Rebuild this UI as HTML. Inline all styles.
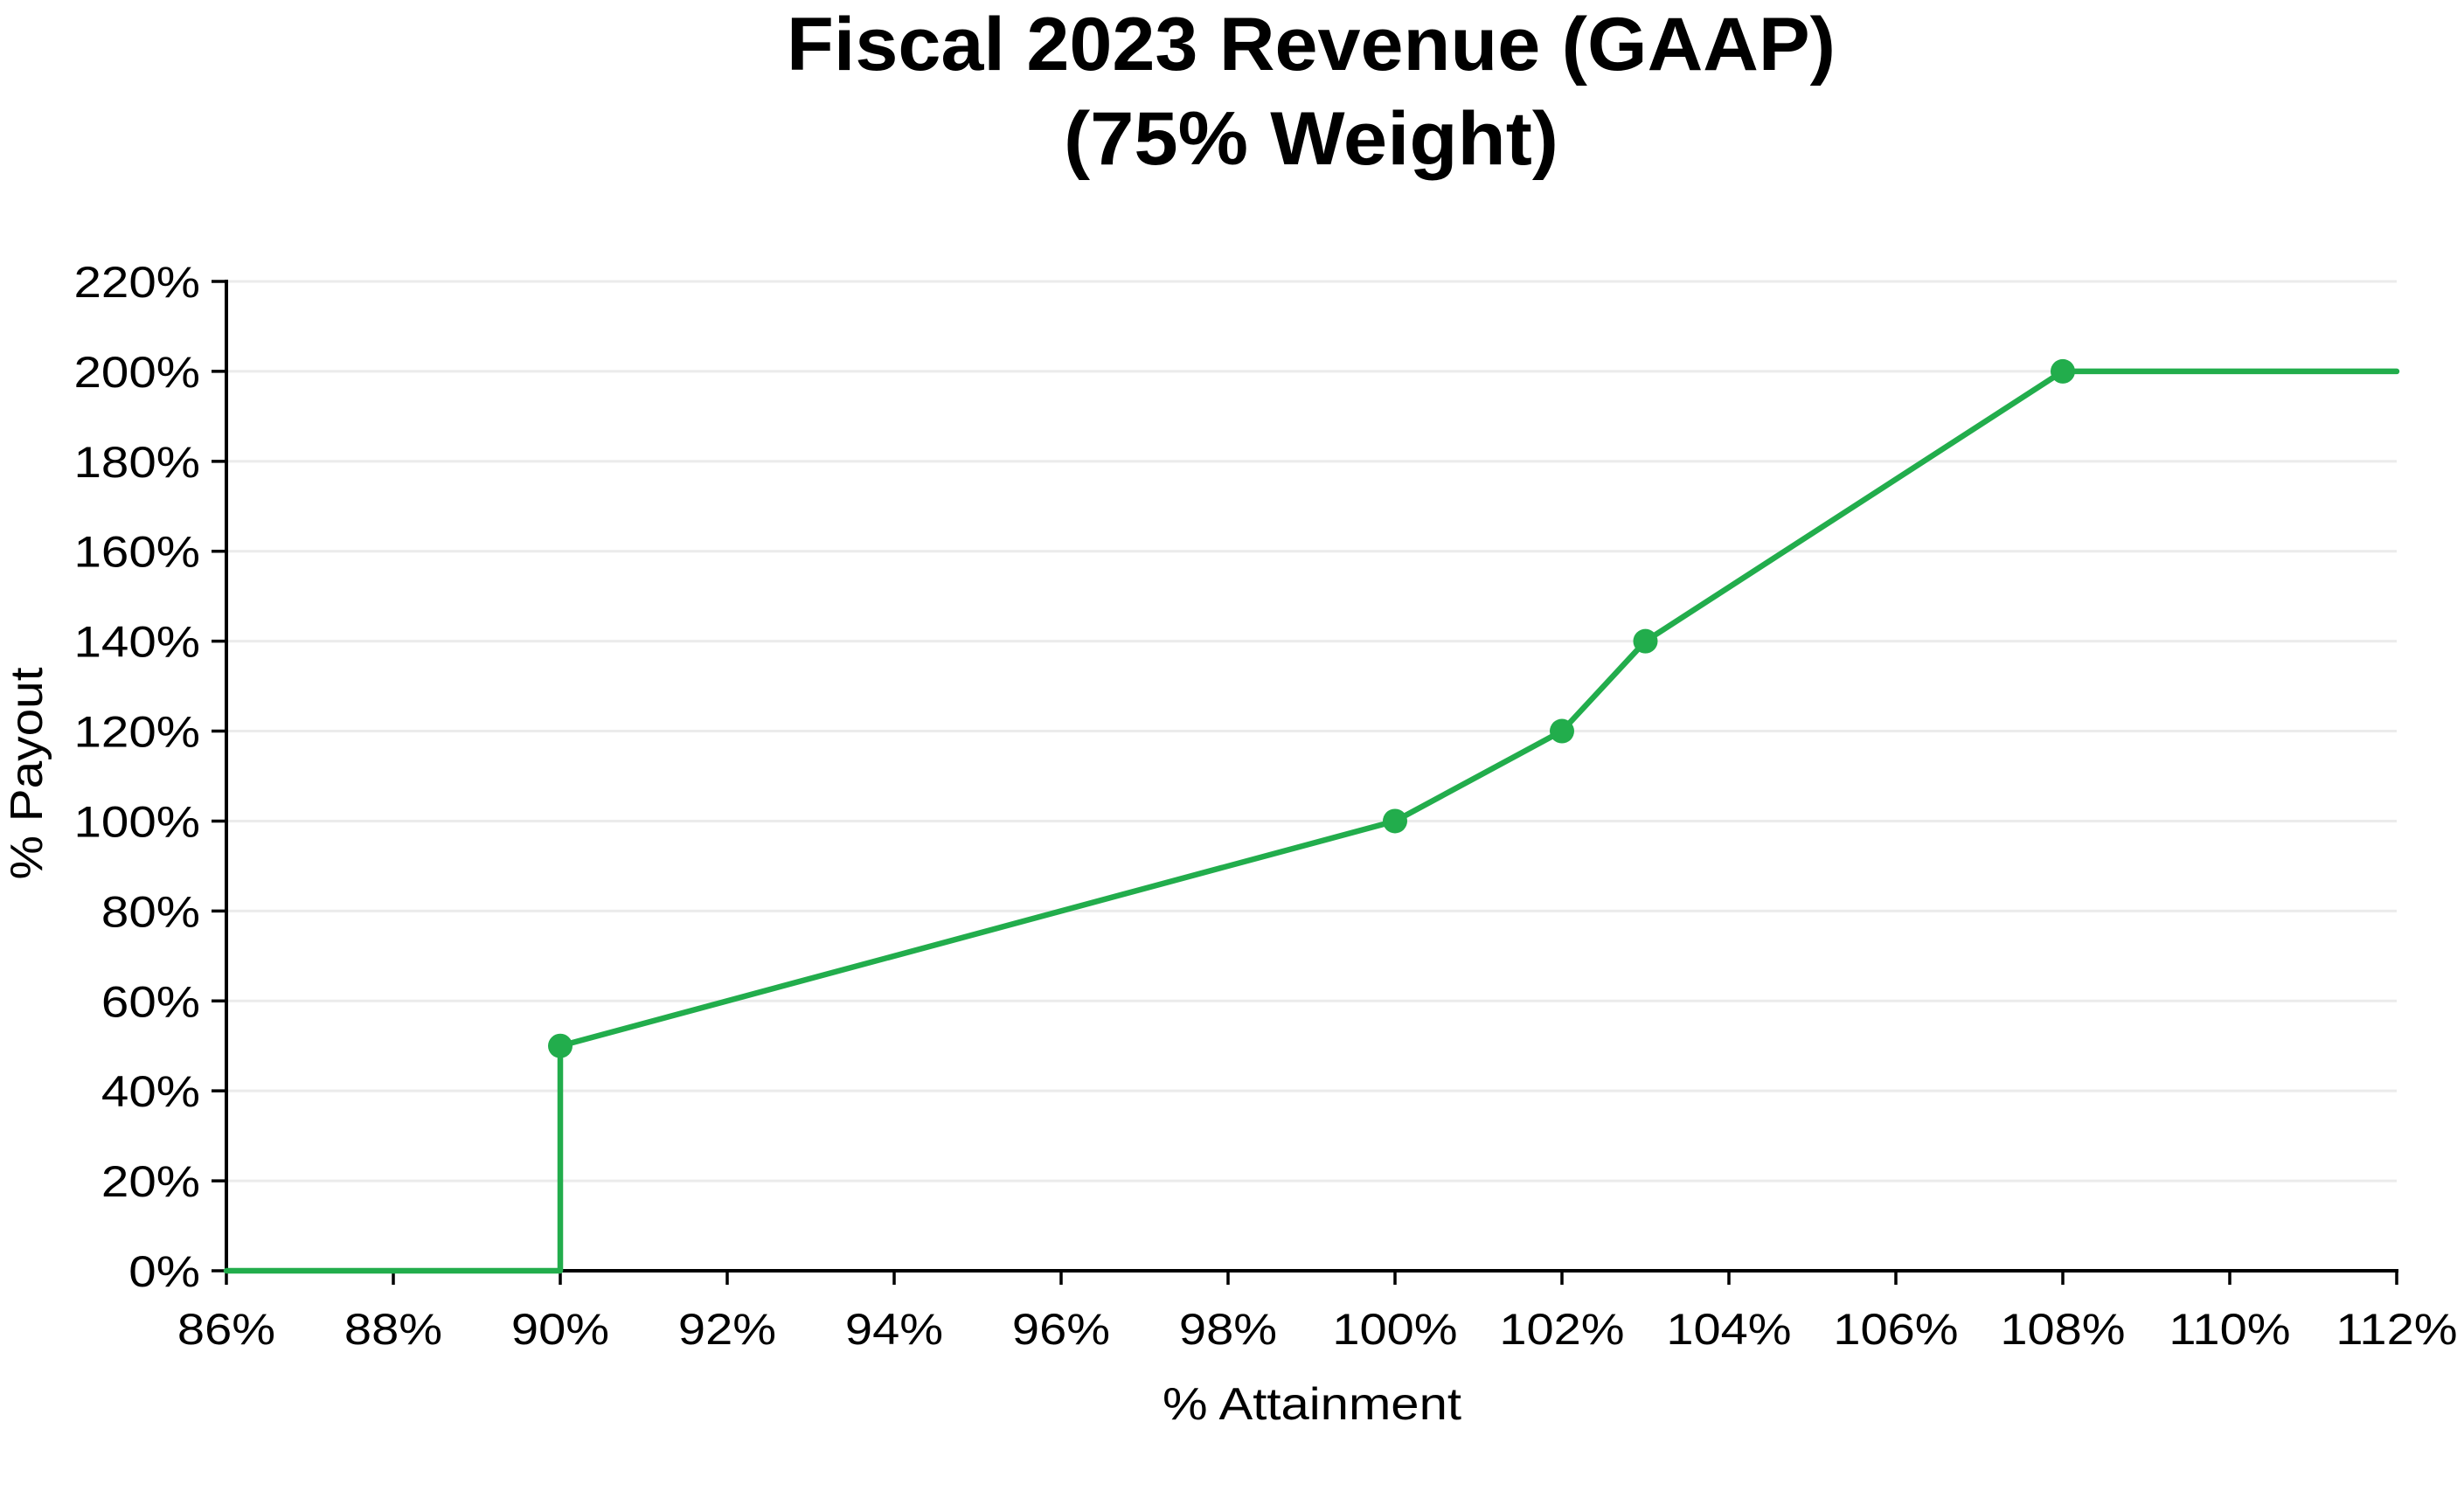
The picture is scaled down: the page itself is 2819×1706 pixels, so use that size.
<!DOCTYPE html>
<html><head><meta charset="utf-8"><style>
html,body{margin:0;padding:0;background:#fff;}
svg{display:block;font-family:"Liberation Sans",sans-serif;}
</style></head><body>
<svg id="chart" width="2819" height="1706" viewBox="0 0 2819 1706" xmlns="http://www.w3.org/2000/svg">
<text x="1500" y="80" text-anchor="middle" font-size="86" font-weight="bold" textLength="1200" lengthAdjust="spacingAndGlyphs">Fiscal 2023 Revenue (GAAP)</text>
<text x="1500" y="188" text-anchor="middle" font-size="86" font-weight="bold" textLength="566" lengthAdjust="spacingAndGlyphs">(75% Weight)</text>
<g id="grid"></g>
<g id="axes"></g>
<g id="series"></g>
<text x="1501" y="1624" text-anchor="middle" font-size="52" textLength="342" lengthAdjust="spacingAndGlyphs">% Attainment</text>
<text transform="translate(48,885) rotate(-90)" text-anchor="middle" font-size="52" textLength="243" lengthAdjust="spacingAndGlyphs">% Payout</text>
</svg>
<script>
const xTicks = [86,88,90,92,94,96,98,100,102,104,106,108,110,112];
const yTicks = [0,20,40,60,80,100,120,140,160,180,200,220];
const attainment = [86,90,90,100,102,103,108,112];
const payout = [0,0,50,100,120,140,200,200];
const markerX = [90,100,102,103,108];
const markerY = [50,100,120,140,200];

const X0=259, X1=2742, Y0=1454, Y1=322;
const xs = v => X0 + (v-86)/(112-86)*(X1-X0);
const ys = v => Y0 - v/220*(Y0-Y1);
const NS="http://www.w3.org/2000/svg";
function mk(tag, attrs, parent){const e=document.createElementNS(NS,tag);for(const k in attrs)e.setAttribute(k,attrs[k]);parent.appendChild(e);return e;}
function widen(t,f){const w=t.getComputedTextLength();t.setAttribute('textLength',(w*f).toFixed(1));t.setAttribute('lengthAdjust','spacingAndGlyphs');}
const grid=document.getElementById('grid'), axes=document.getElementById('axes'), series=document.getElementById('series');

yTicks.forEach(v=>{
  if(v>0){const g=mk('line',{x1:X0,x2:X1,y1:ys(v),y2:ys(v),stroke:'#ebebeb','stroke-width':3},grid);
  
  }
  const t=mk('line',{x1:X0-17,x2:X0,y1:ys(v),y2:ys(v),stroke:'#000','stroke-width':3.5},axes);
  
  
  const l=mk('text',{x:X0-30,y:ys(v)+18,'text-anchor':'end','font-size':50},axes);
  l.textContent=v+'%';
  
  
  widen(l,1.13);
});
xTicks.forEach(v=>{
  const t=mk('line',{x1:xs(v),x2:xs(v),y1:Y0,y2:Y0+16,stroke:'#000','stroke-width':3.5},axes);
  
  
  const l=mk('text',{x:xs(v),y:Y0+84,'text-anchor':'middle','font-size':50},axes);
  l.textContent=v+'%';
  
  
  widen(l,1.12);
});
const ya=mk('line',{x1:X0,x2:X0,y1:Y1-2,y2:Y0+2,stroke:'#000','stroke-width':4},axes);


const xa=mk('line',{x1:X0-2,x2:X1+2,y1:Y0,y2:Y0,stroke:'#000','stroke-width':4},axes);



const pts=attainment.map((a,i)=>xs(a)+','+ys(payout[i])).join(' ');
const pl=mk('polyline',{points:pts,fill:'none',stroke:'#22ad4c','stroke-width':6.5,'stroke-linejoin':'round','stroke-linecap':'round'},series);


markerX.forEach((a,i)=>{
  const c=mk('circle',{cx:xs(a),cy:ys(markerY[i]),r:14,fill:'#22ad4c'},series);
  
  
});
</script>
</body></html>
